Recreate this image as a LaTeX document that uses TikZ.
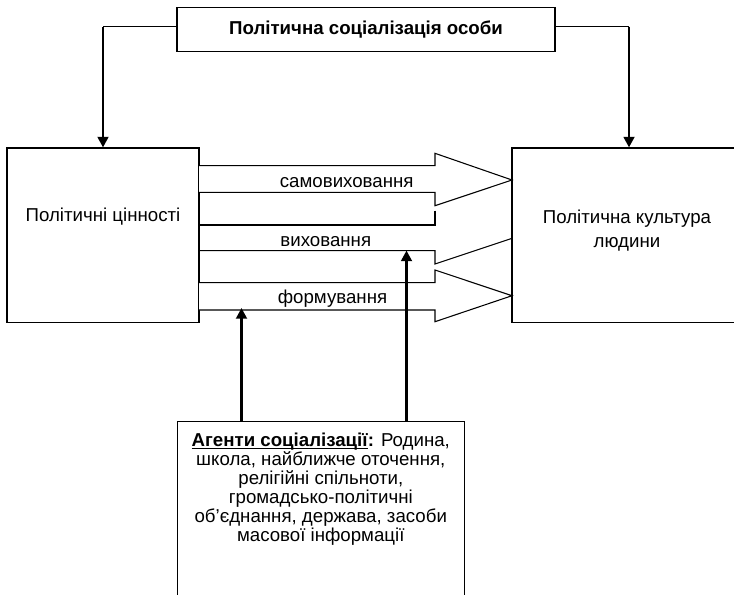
\documentclass[tikz,border=0pt]{standalone}
\usepackage{fontspec}
\setmainfont{Liberation Sans}
\usetikzlibrary{arrows.meta}
\tikzset{
  txt/.style={inner sep=0pt, font=\fontsize{14pt}{14.25pt}\selectfont},
  box/.style={draw, line width=0.8pt, inner sep=0pt, font=\fontsize{14pt}{14.25pt}\selectfont},
  blk/.style={draw, line width=0.8pt, fill=white},
  link/.style={line width=0.9pt},
  push/.style={line width=2pt, -{Triangle[width=8pt,length=8pt]}}
}
\begin{document}
\begin{tikzpicture}[x=0.75pt,y=-0.75pt]
\useasboundingbox (0,0) rectangle (734,594);
\node[box, minimum width=283.5pt, minimum height=32.8pt, font=\fontsize{14pt}{14.25pt}\selectfont\bfseries] (soc) at (366,29.2) {Політична соціалізація особи};
\node[box, minimum width=144pt, minimum height=131pt] (values) at (103,235.3) {};
\node[box, minimum width=175.5pt, minimum height=131pt] (culture) at (629,235.3) {};
\node[box, anchor=north, minimum width=215.25pt, minimum height=165pt] (agents) at (320.8,420.7) {};
\node[txt, anchor=base] (valtext) at (103,221.7) {Політичні цінності};
\node[txt, anchor=north, align=center, font=\fontsize{14pt}{17.8pt}\selectfont] (culttext) at (627,209.6) {Політична культура\\людини};
\node[txt, anchor=north, align=center] (agtext) at (320.8,433.3) {\underline{\smash{\textbf{Агенти соціалізації}}}\textbf{:} Родина,\\школа, найближче оточення,\\релігійні спільноти,\\громадсько-політичні\\об’єднання, держава, засоби\\масової інформації};
\draw[blk] (199,165.7) -- (435,165.7) -- (435,153.3) -- (512,180) -- (435,205.7) -- (435,192.3) -- (199,192.3);
\draw[blk] (435,210.7) -- (435,225) -- (199,225);
\draw[blk] (199,250.7) -- (435,250.7) -- (435,264) -- (512,238.3);
\draw[blk] (199,282.7) -- (435,282.7) -- (435,270) -- (512,295.7) -- (435,321.7) -- (435,310) -- (199,310);
\node[txt, anchor=base] (self) at (346.7,187.7) {самовиховання};
\node[txt, anchor=base] (upbr) at (325.8,246) {виховання};
\node[txt, anchor=base] (form) at (332.5,303.3) {формування};
\coordinate (lk) at (103,26.7);
\coordinate (rk) at (629,26.7);
\draw[link] (soc.west |- lk) -- (lk);
\draw[push] (lk) -- (values.north);
\draw[link] (soc.east |- rk) -- (rk);
\draw[push] (rk) -- (culture.north);
\coordinate (up1) at (241.5,308);
\coordinate (up2) at (406.5,250.5);
\draw[push] (agents.north -| up1) -- (up1);
\draw[push] (agents.north -| up2) -- (up2);
\end{tikzpicture}
\end{document}
